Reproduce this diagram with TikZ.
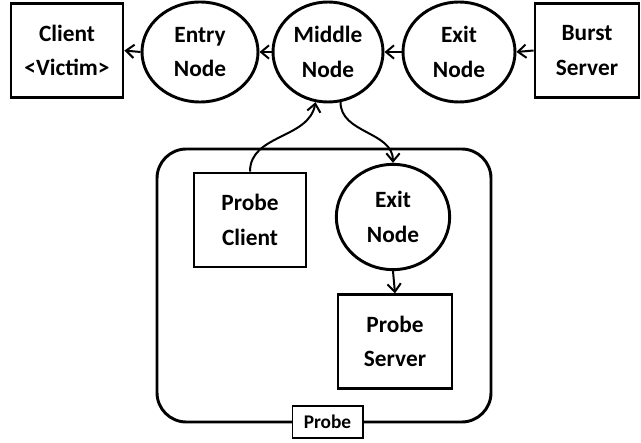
\documentclass[tikz,border=0pt]{standalone}
\usepackage{fontspec}
\setmainfont{Carlito}
\usetikzlibrary{arrows.meta,shapes.geometric}

\begin{document}
\begin{tikzpicture}[x=0.75pt,y=-0.75pt,
  lbl/.style={align=center,font=\bfseries\fontsize{17.5}{26}\selectfont},
  boxnode/.style={lbl,draw,line width=2.2pt,inner sep=0pt},
  relay/.style={lbl,draw,ellipse,line width=2.2pt,inner sep=0pt},
  link/.style={line width=1.5pt,-{Straight Barb[length=6pt,width=10pt,line width=1.5pt]}}
]
\useasboundingbox (0,0) rectangle (641,442);

% top chain
\node[boxnode,minimum width=84pt,minimum height=71pt] (client) at (67,50.5) {Client\\{<}Victim{>}};
\node[relay,minimum width=87pt,minimum height=75pt] (entry) at (200,52) {Entry\\Node};
\node[relay,minimum width=82.5pt,minimum height=75pt] (middle) at (328,52) {Middle\\Node};
\node[relay,minimum width=84pt,minimum height=75pt] (exitT) at (459,52) {Exit\\Node};
\node[boxnode,minimum width=78pt,minimum height=71pt] (burst) at (587,50.5) {Burst\\Server};

% probe container
\draw[line width=2.2pt,rounded corners=22pt] (157,149) rectangle (491,422);
\node[boxnode,minimum width=84pt,minimum height=70.5pt] (pclient) at (250,220) {Probe\\Client};
\node[relay,minimum width=85pt,minimum height=79pt] (exitB) at (393,217) {Exit\\Node};
\node[boxnode,minimum width=85.5pt,minimum height=70pt] (pserver) at (395,341.5) {Probe\\Server};
\node[draw,fill=white,line width=1pt,minimum width=53pt,minimum height=24pt,inner sep=0pt,
      font=\bfseries\fontsize{14.5}{16}\selectfont] (plabel) at (327.5,422) {Probe};

% connections
\draw[link] (burst.west) -- (exitT.east);
\draw[link] (exitT.west) -- (middle.east);
\draw[link] (middle.west) -- (entry.east);
\draw[link] (entry.west) -- (client.east);
\draw[link] (pclient.north) to[out=90,in=-100] (middle.-104);
\draw[link] (middle.-76) to[out=-90,in=90] (exitB.north);
\draw[link] (exitB.south) -- (pserver.north);
\end{tikzpicture}
\end{document}
